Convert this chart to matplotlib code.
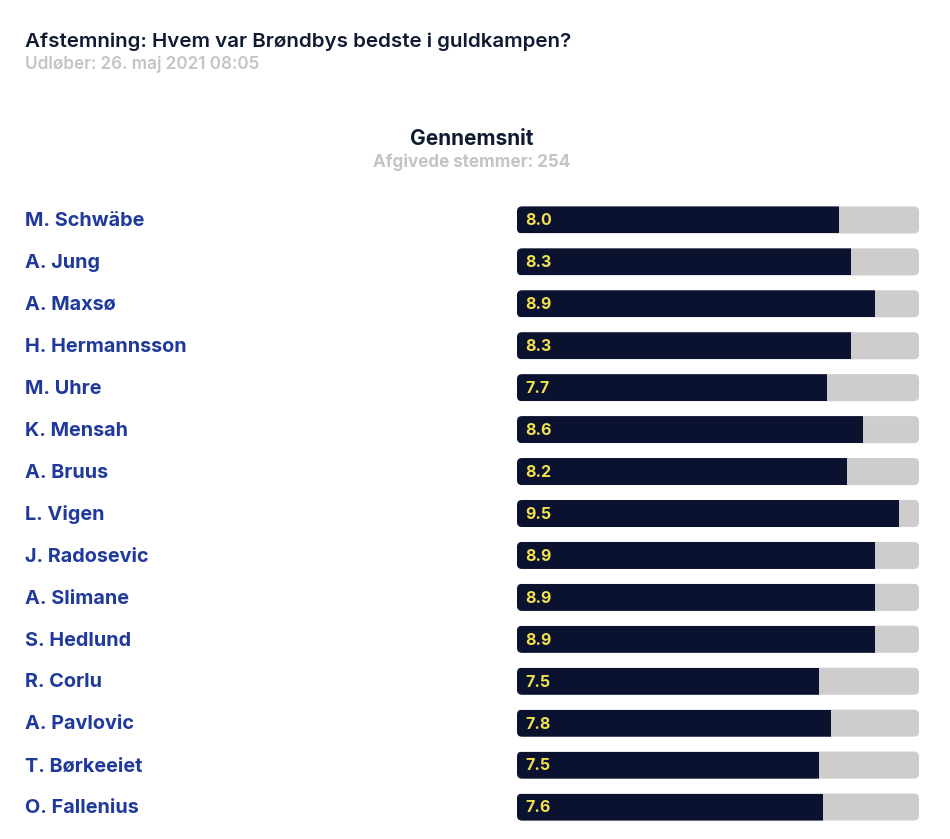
import matplotlib.pyplot as plt
from matplotlib.patches import FancyBboxPatch
from matplotlib.transforms import blended_transform_factory

players = ["M. Schwäbe", "A. Jung", "A. Maxsø", "H. Hermannsson", "M. Uhre",
           "K. Mensah", "A. Bruus", "L. Vigen", "J. Radosevic", "A. Slimane",
           "S. Hedlund", "R. Corlu", "A. Pavlovic", "T. Børkeeiet", "O. Fallenius"]
ratings = [8.0, 8.3, 8.9, 8.3, 7.7, 8.6, 8.2, 9.5, 8.9, 8.9, 8.9, 7.5, 7.8, 7.5, 7.6]
max_rating = 10

title = "Afstemning: Hvem var Brøndbys bedste i guldkampen?"
subtitle = "Udløber: 26. maj 2021 08:05"
header = "Gennemsnit"
votes = "Afgivede stemmer: 254"

NAVY = "#0b1230"
GREY = "#cdcdcd"
BLUE = "#1f3a9a"
YELLOW = "#f2e14c"
LIGHT = "#c4c4c4"

plt.rcParams['font.family'] = ['Inter', 'DejaVu Sans']

W, H = 950, 839
fig = plt.figure(figsize=(W / 100, H / 100), dpi=100)
fig.patch.set_facecolor("white")


def fx(px):
    return px / W


def fy(py):
    return 1 - py / H


fig.text(fx(25), fy(42), title, fontsize=14.8, weight="semibold", color="#111a33", va="center")
fig.text(fx(25), fy(64), subtitle, fontsize=12.3, weight="semibold", color=LIGHT, va="center")
fig.text(fx(472), fy(139), header, fontsize=15, weight="bold", color="#111a33", va="center", ha="center")
fig.text(fx(472), fy(162), votes, fontsize=12.3, weight="bold", color=LIGHT, va="center", ha="center")

# bar area: x 517..919 px, rows centered 220..807 px
top, bottom = 199, 828
ax = fig.add_axes([fx(517), fy(bottom), fx(919) - fx(517), (bottom - top) / H])
ax.set_xlim(0, max_rating)
ax.set_ylim(len(players) - 0.5, -0.5)
ax.axis("off")

bar_h = 0.645
px_x = 402 / max_rating
px_y = (bottom - top) / len(players)
r = 5 / px_x
trans = blended_transform_factory(fig.transFigure, ax.transData)

for i, (name, val) in enumerate(zip(players, ratings)):
    bg = FancyBboxPatch((0, i - bar_h / 2), max_rating, bar_h,
                        boxstyle=f"round,pad=0,rounding_size={r}",
                        mutation_aspect=px_x / px_y,
                        facecolor=GREY, edgecolor="none")
    ax.add_patch(bg)
    bars = ax.barh(i, val, height=bar_h, color=NAVY, edgecolor="none")
    bars[0].set_clip_path(bg)
    ax.text(0.2, i + 0.02, f"{val:.1f}", color=YELLOW, fontsize=11.5, weight="bold",
            va="center", ha="left")
    ax.text(fx(25), i + 0.03, name, transform=trans, color=BLUE, fontsize=14.3, weight="bold",
            va="center", ha="left", clip_on=False)

fig.savefig("out.png", dpi=100)
